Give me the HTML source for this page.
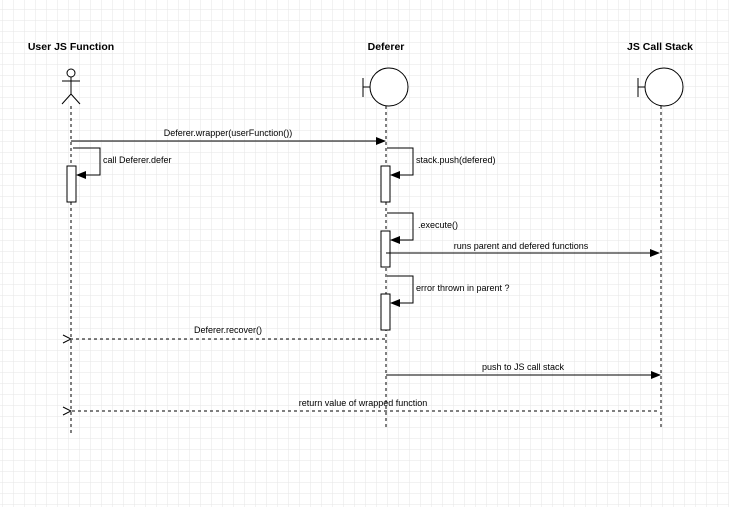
<!DOCTYPE html>
<html><head><style>
body{margin:0;width:729px;height:507px;background:#fff;overflow:hidden;}
svg{display:block;font-family:"Liberation Sans",sans-serif;}
</style></head><body>
<svg width="729" height="507" viewBox="0 0 729 507" xmlns="http://www.w3.org/2000/svg">
<defs>
<pattern id="g" width="11" height="11" patternUnits="userSpaceOnUse" x="3" y="10">
<path d="M11 0V11M0 11H11" stroke="#e6e6e6" stroke-width="1" fill="none"/>
</pattern>
<marker id="a" markerWidth="10" markerHeight="8" refX="9" refY="4" orient="auto" markerUnits="userSpaceOnUse">
<path d="M0 0L10 4L0 8z" fill="#000"/>
</marker>
<marker id="o" markerWidth="10" markerHeight="10" refX="1" refY="5" orient="auto" markerUnits="userSpaceOnUse">
<path d="M9 1L1 5L9 9" fill="none" stroke="#000"/>
</marker>
</defs>
<rect width="729" height="507" fill="url(#g)"/>
<g font-size="10.5" font-weight="bold" text-anchor="middle">
<text x="71" y="50">User JS Function</text>
<text x="386" y="50">Deferer</text>
<text x="660" y="50">JS Call Stack</text>
</g>
<g stroke="#000" fill="none" stroke-width="1">
<!-- actor -->
<circle cx="71" cy="73" r="4" fill="#fff"/>
<path d="M71 77V94M62 81H80M71 94L62 104M71 94L80 104"/>
<!-- boundaries -->
<path d="M363 78V97M363 87H370"/>
<circle cx="389" cy="87" r="19" fill="#fff"/>
<path d="M638 78V97M638 87H645"/>
<circle cx="664" cy="87" r="19" fill="#fff"/>
<!-- lifelines -->
<g stroke-dasharray="3,3">
<path d="M71 106V436"/>
<path d="M386 106V430"/>
<path d="M661 106V430"/>
</g>
<!-- activations -->
<rect x="67" y="166" width="9" height="36" fill="#fff"/>
<rect x="381" y="166" width="9" height="36" fill="#fff"/>
<rect x="381" y="231" width="9" height="36" fill="#fff"/>
<rect x="381" y="294" width="9" height="36" fill="#fff"/>
<!-- messages -->
<path d="M71 141H385" marker-end="url(#a)"/>
<path d="M73 148H100V175H77" marker-end="url(#a)"/>
<path d="M387 148H413V175H391" marker-end="url(#a)"/>
<path d="M387 213H413V240H391" marker-end="url(#a)"/>
<path d="M386 253H659" marker-end="url(#a)"/>
<path d="M387 276H413V303H391" marker-end="url(#a)"/>
<path d="M385 339H71" stroke-dasharray="3,3" marker-end="url(#o)"/>
<path d="M386 375H660" marker-end="url(#a)"/>
<path d="M657 411H71" stroke-dasharray="3,3" marker-end="url(#o)"/>
</g>
<g font-size="9" fill="#000">
<text x="228" y="136" text-anchor="middle">Deferer.wrapper(userFunction())</text>
<text x="103" y="163">call Deferer.defer</text>
<text x="416" y="163">stack.push(defered)</text>
<text x="418" y="228">.execute()</text>
<text x="521" y="249" text-anchor="middle">runs parent and defered functions</text>
<text x="416" y="291">error thrown in parent ?</text>
<text x="228" y="333" text-anchor="middle">Deferer.recover()</text>
<text x="523" y="370" text-anchor="middle">push to JS call stack</text>
<text x="363" y="406" text-anchor="middle">return value of wrapped function</text>
</g>
</svg>
</body></html>
